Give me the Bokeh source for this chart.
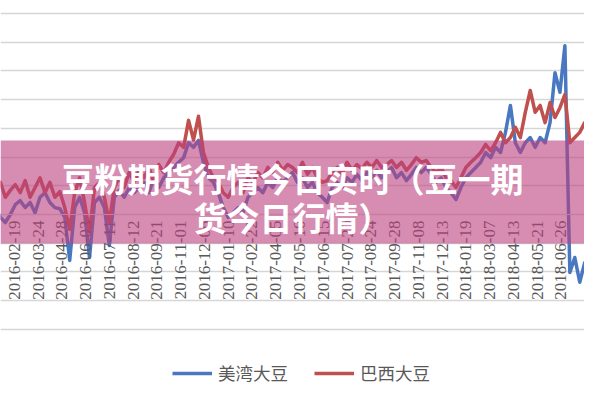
import numpy as np
from math import pi
from bokeh.plotting import figure
from bokeh.models import Range1d, FixedTicker, Legend, LegendItem, BoxAnnotation, Label
from bokeh.embed import file_html
from bokeh.resources import INLINE

# ---- data -------------------------------------------------------------
tick_labels = [
    "2016-01-13", "2016-02-19", "2016-03-24", "2016-04-28", "2016-06-03",
    "2016-07-11", "2016-08-12", "2016-09-21", "2016-11-01", "2016-12-06",
    "2017-01-10", "2017-02-22", "2017-04-05", "2017-05-10", "2017-06-15",
    "2017-07-20", "2017-08-24", "2017-09-28", "2017-11-08", "2017-12-13",
    "2018-01-19", "2018-03-07", "2018-04-13", "2018-05-21", "2018-06-26",
    "2018-07-31",
]
series_names = ["美湾大豆", "巴西大豆"]

us_soy = [
    30, 12, -5, -14, 0, 17, 24, 12, 21, 3,
    30, 38, 21, 12, 10, -5, -80, 12, 30, 3,
    -75, 21, 30, 12, -54, 30, 42, 30, 47, 38,
    47, 56, 38, 64, 47, 64, 73, 82, 91, 99,
    125, 117, 129, 91, 64, 56, 38, 12, -5, 3,
    12, 3, 30, 38, 47, 38, 56, 47, 64, 56,
    64, 73, 56, 64, 47, 56, 38, 30, 21, 47,
    56, 47, 64, 56, 70, 59, 73, 64, 77, 64,
    73, 82, 64, 73, 59, 70, 82, 73, 82, 70,
    56, 64, 47, 38, 26, 47, 64, 73, 82, 91,
    108, 99, 117, 108, 143, 190, 125, 108, 125, 134,
    117, 134, 125, 160, 247, 213, 294, -101, -75, -118,
    -84, -110, -95,
]
br_soy = [
    47, 38, 56, 30, 42, 52, 38, 59, 30, 47,
    64, 38, 56, 30, 40, 12, -26, 38, 64, 21,
    -31, 47, 56, 30, -14, 47, 64, 47, 73, 56,
    77, 64, 82, 56, 87, 73, 91, 105, 125, 117,
    164, 130, 171, 108, 82, 64, 56, 38, 30, 47,
    56, 38, 64, 56, 73, 64, 82, 73, 91, 77,
    87, 82, 73, 91, 70, 82, 64, 56, 59, 73,
    82, 70, 91, 77, 87, 80, 91, 82, 94, 82,
    87, 94, 82, 91, 77, 87, 99, 91, 94, 82,
    73, 82, 64, 59, 47, 64, 82, 91, 99, 108,
    122, 111, 125, 143, 125, 134, 152, 134, 178, 216,
    178, 190, 160, 195, 169, 186, 209, 125, 134, 143,
    160, 152, 165,
]
grid_values = [-200, -150, -100, -50, 0, 50, 100, 150, 200, 250, 300, 350]
title_lines = ["豆粉期货行情今日实时（豆一期", "货今日行情）"]

STEP = 5          # trading days between samples
LABEL_EVERY = 24  # trading days between axis labels
x = np.arange(len(us_soy)) * STEP
ticks = [i * LABEL_EVERY for i in range(len(tick_labels))]

# ---- figure -----------------------------------------------------------
p = figure(width=584, height=384, output_backend="svg", toolbar_location=None,
           x_range=Range1d(10.1, 599.8), y_range=Range1d(-296.2, 372.8),
           min_border=0, outline_line_color=None,
           background_fill_color="white", border_fill_color="white")

p.xgrid.visible = False
p.yaxis.visible = False
p.ygrid.ticker = FixedTicker(ticks=grid_values)
p.ygrid.grid_line_color = "#d6d6d6"
p.ygrid.grid_line_width = 1.6

xa = p.xaxis[0]
xa.fixed_location = 0
xa.ticker = FixedTicker(ticks=ticks)
xa.major_label_overrides = {t: lab for t, lab in zip(ticks, tick_labels)}
xa.major_label_orientation = pi / 2
xa.major_tick_line_color = None
xa.minor_tick_line_color = None
xa.major_tick_out = 0
xa.major_tick_in = 0
xa.major_label_standoff = 6
xa.axis_line_color = "#d6d6d6"
xa.major_label_text_font = "Liberation Serif"
xa.major_label_text_font_size = "17px"
xa.major_label_text_color = "#595959"

r_us = p.line(x, us_soy, line_color="#4a78c0", line_width=3.5, line_join="round")
r_br = p.line(x, br_soy, line_color="#c0504d", line_width=3.5, line_join="round")

# banner overlay with title
band = BoxAnnotation(top=128.9, bottom=-50.5, fill_color=(188, 63, 127),
                     fill_alpha=0.6, line_color=None)
p.add_layout(band)
for txt, yv in zip(title_lines, [64.0, -5.0]):
    p.add_layout(Label(x=305, y=yv, text=txt, text_align="center",
                       text_baseline="middle", text_color="white",
                       text_font="Noto Sans CJK SC", text_font_style="bold",
                       text_font_size="33px"))

legend = Legend(items=[LegendItem(label=series_names[0], renderers=[r_us]),
                       LegendItem(label=series_names[1], renderers=[r_br])],
                orientation="horizontal", location=(172, -1),
                label_text_font="Noto Sans CJK SC", label_text_font_size="17.5px",
                label_text_color="#595959", glyph_width=40, glyph_height=20,
                label_standoff=6, spacing=26, padding=0, margin=0,
                border_line_color=None, background_fill_alpha=0)
p.add_layout(legend)

open("out.html", "w").write(file_html(p, INLINE))
